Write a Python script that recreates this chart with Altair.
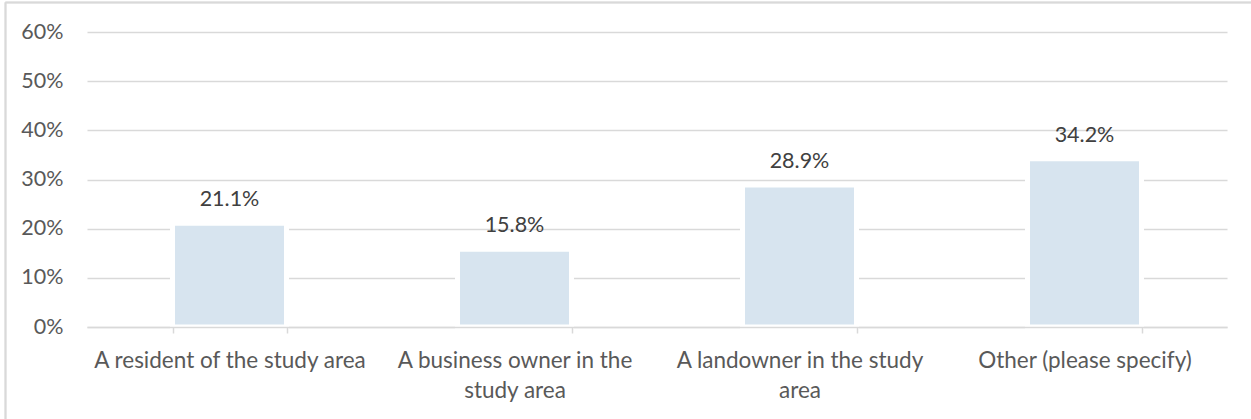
import altair as alt
import pandas as pd

categories = [
    "A resident of the study area",
    "A business owner in the|study area",
    "A landowner in the study|area",
    "Other (please specify)",
]
values = [0.211, 0.158, 0.289, 0.342]
y_ticks = [0, 0.1, 0.2, 0.3, 0.4, 0.5, 0.6]

df = pd.DataFrame({"category": categories, "value": values})

FONT = "Lato"
FS = 21.5
GRID = "#d9d9d9"

x_enc = alt.X(
    "category:N",
    sort=categories,
    scale=alt.Scale(paddingInner=0.6, paddingOuter=0.3),
    axis=alt.Axis(
        title=None,
        labelAngle=0,
        labelExpr="split(datum.label, '|')",
        labelFont=FONT,
        labelFontSize=22.5,
        labelColor="#595959",
        labelLineHeight=30,
        labelPadding=16,
        labelLimit=0,
        domainColor=GRID,
        domainWidth=1.5,
        tickColor=GRID,
        tickWidth=1.5,
        tickSize=6,
        tickBand="extent",
        zindex=1,
    ),
)

y_enc = alt.Y(
    "value:Q",
    scale=alt.Scale(domain=[0, 0.6]),
    axis=alt.Axis(
        title=None,
        values=y_ticks,
        format=".0%",
        domain=False,
        ticks=False,
        grid=True,
        gridColor=GRID,
        gridWidth=1.3,
        labelFont=FONT,
        labelFontSize=FS,
        labelColor="#595959",
        labelPadding=24,
    ),
)

bars = alt.Chart(df).mark_bar(
    color="#D7E4EF", stroke="white", strokeWidth=5
).encode(x=x_enc, y=y_enc)

text = alt.Chart(df).mark_text(
    font=FONT, fontSize=FS, color="#404040", baseline="middle", dy=-23
).encode(
    x=alt.X("category:N", sort=categories),
    y="value:Q",
    text=alt.Text("value:Q", format=".1%"),
)

border_left = alt.Chart(df).mark_rule(color=GRID, strokeWidth=1.5).encode(
    x=alt.value(-81.5), y=alt.value(-29.5), y2=alt.value(387)
)
border_top = alt.Chart(df).mark_rule(color=GRID, strokeWidth=1.5).encode(
    x=alt.value(-81.5), x2=alt.value(1164), y=alt.value(-29.5)
)

chart = (
    alt.layer(border_left, border_top, bars, text)
    .properties(
        width=1140,
        height=295,
        autosize=alt.AutoSizeParams(type="none"),
        padding={"left": 87, "top": 32, "right": 24, "bottom": 92},
        background="white",
    )
    .configure_view(strokeWidth=0)
)

chart.save("out.html", embed_options={"renderer": "svg", "actions": False})
